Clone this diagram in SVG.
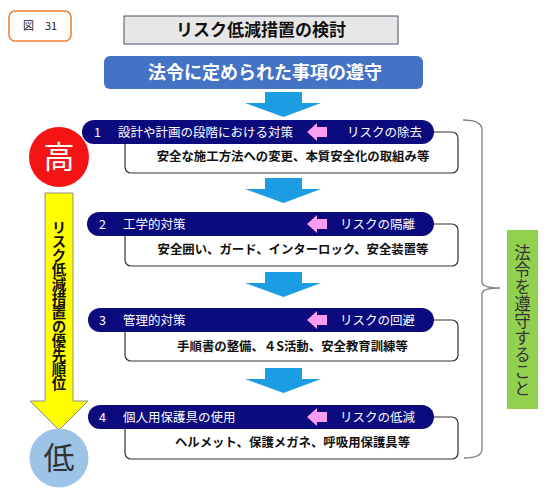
<svg xmlns="http://www.w3.org/2000/svg" width="544" height="489" viewBox="0 0 544 489">
<defs>
<style>
text{font-family:"Noto Sans CJK JP","Noto Sans",sans-serif}
.band{fill:#0b0b7e}
.bt{fill:#fff;font-size:12.5px}
.sub{fill:#fff;stroke:#333;stroke-width:1.2}
.st{fill:#111;font-size:12.4px;font-weight:bold;text-anchor:middle}
.barrow{fill:#1c9de3}
.parrow{fill:#fb9cf2}
</style>
<path id="ba" d="M20,0 H57 V11 H76 L38.5,25 L0,11 H20 Z"/>
<path id="pa" d="M0,0 L10,-9 V-5 H20 V5 H10 V9 Z"/>
</defs>
<rect width="544" height="489" fill="#fff"/>

<g id="fig-label">
<rect x="9" y="11" width="62" height="30" rx="6" fill="#fff" stroke="#ed7d31" stroke-width="1.5"/>
<text x="40" y="30" font-size="11" text-anchor="middle" fill="#222">図　31</text>
</g>

<g id="title">
<rect x="124" y="16" width="274" height="28" fill="#e7e7e7" stroke="#44546a" stroke-width="1"/>
<text x="261" y="36" font-size="17" font-weight="bold" text-anchor="middle" fill="#111">リスク低減措置の検討</text>
</g>

<g id="banner">
<rect x="104" y="56" width="319" height="33" rx="6" fill="#4472c4"/>
<text x="265" y="78.5" font-size="18" font-weight="bold" text-anchor="middle" fill="#fff">法令に定められた事項の遵守</text>
</g>

<g id="connectors">
<use class="barrow" href="#ba" x="245" y="92"/>
<use class="barrow" href="#ba" x="245" y="178"/>
<use class="barrow" href="#ba" x="245" y="272"/>
<use class="barrow" href="#ba" x="245" y="368"/>
<path d="M463,120 Q482,120 482,130 L482,282 Q482,288 500,288 Q482,288 482,294 L482,449 Q482,458 464,458" fill="none" stroke="#808080" stroke-width="1.3"/>
</g>

<g id="step1">
<rect class="sub" x="125" y="132" width="333" height="41" rx="6"/>
<rect class="band" x="82" y="120" width="352" height="24" rx="12"/>
<text class="bt" x="94" y="136.5">1</text>
<text class="bt" x="118" y="136.5">設計や計画の段階における対策</text>
<use class="parrow" href="#pa" x="307" y="132"/>
<text class="bt" x="347" y="136.5">リスクの除去</text>
<text class="st" x="293" y="161">安全な施工方法への変更、本質安全化の取組み等</text>
</g>

<g id="step2">
<rect class="sub" x="125" y="224" width="333" height="42" rx="6"/>
<rect class="band" x="87" y="212" width="347" height="24" rx="12"/>
<text class="bt" x="99" y="228.5">2</text>
<text class="bt" x="123" y="228.5">工学的対策</text>
<use class="parrow" href="#pa" x="307" y="224"/>
<text class="bt" x="340" y="228.5">リスクの隔離</text>
<text class="st" x="293" y="254">安全囲い、ガード、インターロック、安全装置等</text>
</g>

<g id="step3">
<rect class="sub" x="125" y="320" width="333" height="41" rx="6"/>
<rect class="band" x="88" y="308" width="346" height="24" rx="12"/>
<text class="bt" x="99" y="324.5">3</text>
<text class="bt" x="123" y="324.5">管理的対策</text>
<use class="parrow" href="#pa" x="307" y="320"/>
<text class="bt" x="340" y="324.5">リスクの回避</text>
<text class="st" x="292.5" y="351">手順書の整備、４S活動、安全教育訓練等</text>
</g>

<g id="step4">
<rect class="sub" x="125" y="417" width="333" height="42" rx="6"/>
<rect class="band" x="88" y="405" width="346" height="24" rx="12"/>
<text class="bt" x="99" y="421.5">4</text>
<text class="bt" x="123" y="421.5">個人用保護具の使用</text>
<use class="parrow" href="#pa" x="307" y="417"/>
<text class="bt" x="340" y="421.5">リスクの低減</text>
<text class="st" x="292.5" y="447">ヘルメット、保護メガネ、呼吸用保護具等</text>
</g>

<g id="high">
<circle cx="59" cy="157" r="30" fill="#f41414"/>
<text x="59" y="168" font-size="31" text-anchor="middle" fill="#fff">高</text>
</g>

<g id="priority-arrow">
<path d="M45,193 H73 V401 H88 L59,430 L30,401 H45 Z" fill="#ffff00" stroke="#8c8c8c" stroke-width="1"/>
<text x="59" y="220" font-size="14.5" font-weight="bold" fill="#111" style="writing-mode:vertical-rl" letter-spacing="-0.3">リスク低減措置の優先順位</text>
</g>

<g id="low">
<circle cx="59" cy="458" r="29.5" fill="#9dc3e6"/>
<text x="59" y="469" font-size="31" text-anchor="middle" fill="#333">低</text>
</g>

<g id="law-box">
<rect x="507" y="230" width="31" height="179" fill="#92d050"/>
<text x="522.5" y="244" font-size="16.5" fill="#333" style="writing-mode:vertical-rl" letter-spacing="0.5">法令を遵守すること</text>
</g>
</svg>
